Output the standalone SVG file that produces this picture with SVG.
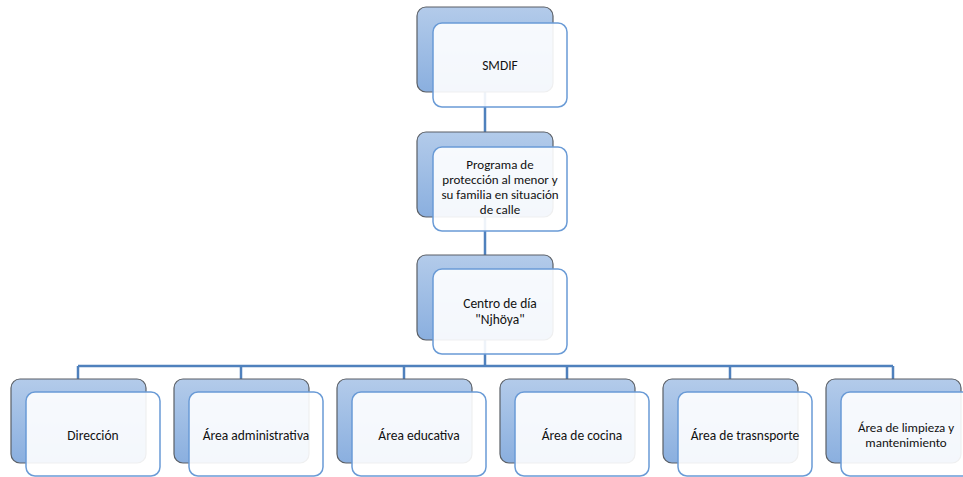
<svg xmlns="http://www.w3.org/2000/svg" width="963" height="477" viewBox="0 0 963 477">
<defs>
<linearGradient id="g" x1="0" y1="0" x2="0" y2="1">
<stop offset="0" stop-color="#b3cbea"/>
<stop offset="1" stop-color="#8aafdf"/>
</linearGradient>
<style>
.back{fill:url(#g);stroke:#5a5f66;stroke-width:1.2}
.front{fill:#ffffff;fill-opacity:0.9;stroke:#6a9bd6;stroke-width:1.5}
.t{font-family:Carlito,Lato,"Liberation Sans",sans-serif;font-size:13.5px;fill:#111;text-anchor:middle}
.s{font-size:13px}
.c{fill:none;stroke:#4f81bd;stroke-width:2.5}
</style>
</defs>
<rect width="963" height="477" fill="#ffffff"/>
<g id="connectors">
<path class="c" d="M485 92V132M485 217V255M485 340V366M78 366H893M78 366V379M241 366V379M404 366V379M567 366V379M730 366V379M893 366V379"/>
</g>
<g id="n1">
<rect class="back" x="417" y="7" width="136" height="85" rx="9"/>
<rect class="front" x="433" y="23" width="134" height="84" rx="9"/>
<text class="t" x="500" y="70">SMDIF</text>
</g>
<g id="n2">
<rect class="back" x="417" y="132" width="136" height="85" rx="9"/>
<rect class="front" x="433" y="147" width="134" height="84" rx="9"/>
<text class="t s" x="500" y="169">Programa de</text>
<text class="t s" x="500" y="184">protección al menor y</text>
<text class="t s" x="500" y="199">su familia en situación</text>
<text class="t s" x="500" y="214">de calle</text>
</g>
<g id="n3">
<rect class="back" x="417" y="255" width="136" height="85" rx="9"/>
<rect class="front" x="433" y="269" width="134" height="85" rx="9"/>
<text class="t" x="500" y="308">Centro de día</text>
<text class="t" x="500" y="324">"Njhöya"</text>
</g>
<g id="n4">
<rect class="back" x="11" y="379" width="135" height="84" rx="9"/>
<rect class="front" x="26" y="392" width="134" height="84" rx="9"/>
<text class="t" x="93" y="440">Dirección</text>
</g>
<g id="n5">
<rect class="back" x="174" y="379" width="135" height="84" rx="9"/>
<rect class="front" x="189" y="392" width="134" height="84" rx="9"/>
<text class="t" x="256" y="440">Área administrativa</text>
</g>
<g id="n6">
<rect class="back" x="337" y="379" width="135" height="84" rx="9"/>
<rect class="front" x="352" y="392" width="134" height="84" rx="9"/>
<text class="t" x="419" y="440">Área educativa</text>
</g>
<g id="n7">
<rect class="back" x="500" y="379" width="135" height="84" rx="9"/>
<rect class="front" x="515" y="392" width="134" height="84" rx="9"/>
<text class="t" x="582" y="440">Área de cocina</text>
</g>
<g id="n8">
<rect class="back" x="663" y="379" width="135" height="84" rx="9"/>
<rect class="front" x="678" y="392" width="134" height="84" rx="9"/>
<text class="t" x="745" y="440">Área de trasnsporte</text>
</g>
<g id="n9">
<rect class="back" x="826" y="379" width="135" height="84" rx="9"/>
<rect class="front" x="841" y="392" width="134" height="84" rx="9"/>
<text class="t s" x="906" y="432">Área de limpieza y</text>
<text class="t s" x="906" y="447">mantenimiento</text>
</g>
</svg>
